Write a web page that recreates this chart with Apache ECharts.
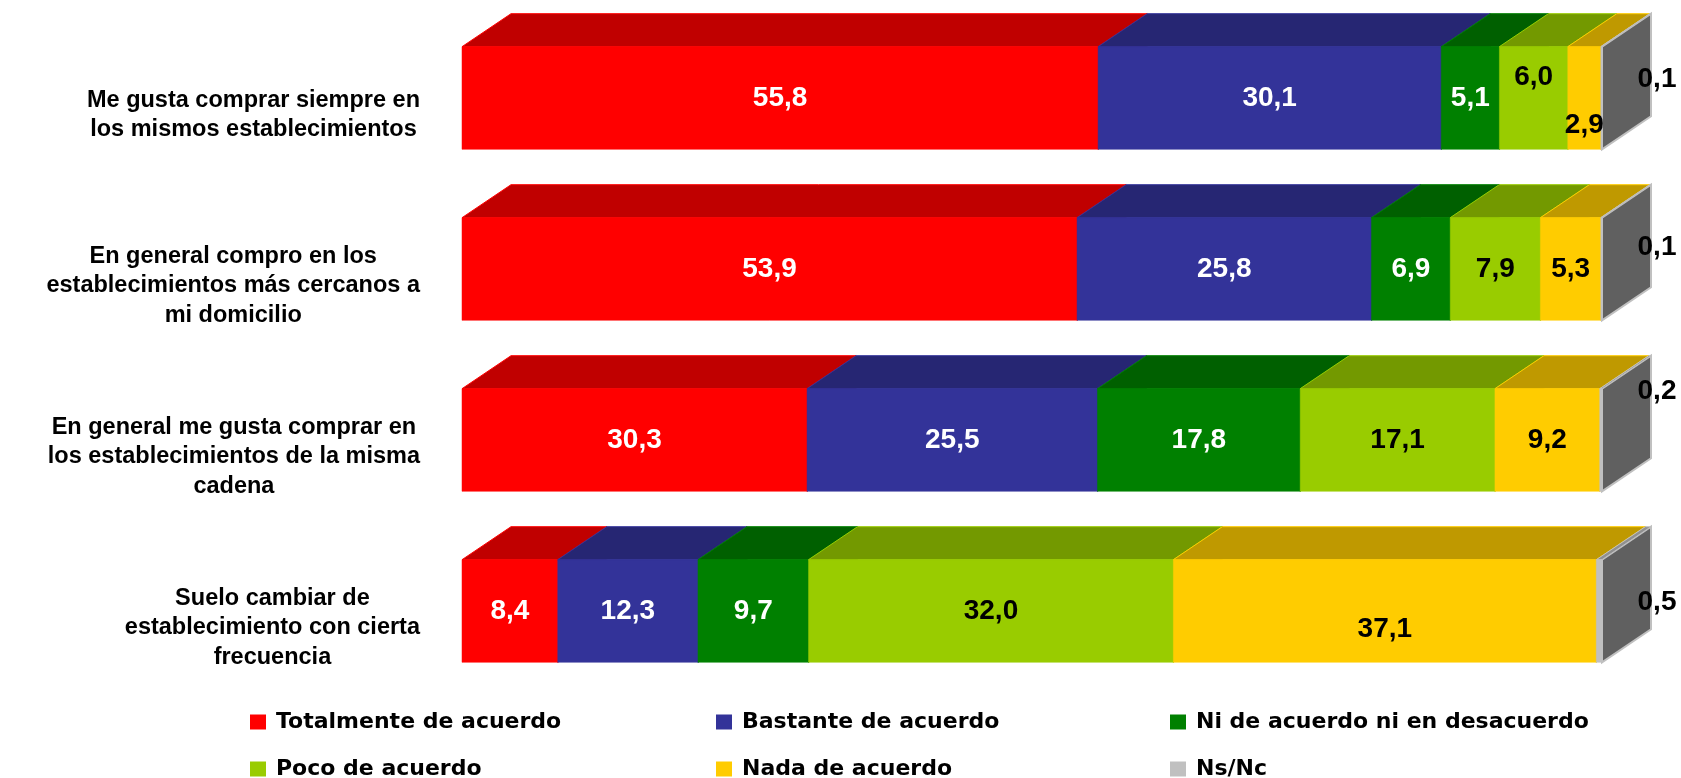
<!DOCTYPE html>
<html>
<head>
<meta charset="utf-8">
<script src="https://cdn.jsdelivr.net/npm/echarts@6/dist/echarts.min.js"></script>
<style>
html,body{margin:0;padding:0;background:#fff;}
#chart{width:1681px;height:778px;}
</style>
</head>
<body>
<div id="chart"></div>
<script>
// ---- data ----
const categories = [
  'Me gusta comprar siempre en\nlos mismos establecimientos',
  'En general compro en los\nestablecimientos más cercanos a\nmi domicilio',
  'En general me gusta comprar en\nlos establecimientos de la misma\ncadena',
  'Suelo cambiar de\nestablecimiento con cierta\nfrecuencia'
];
const seriesNames = ['Totalmente de acuerdo', 'Bastante de acuerdo', 'Ni de acuerdo ni en desacuerdo',
                     'Poco de acuerdo', 'Nada de acuerdo', 'Ns/Nc'];
const totalmente = [55.8, 53.9, 30.3, 8.4];
const bastante   = [30.1, 25.8, 25.5, 12.3];
const ni         = [5.1, 6.9, 17.8, 9.7];
const poco       = [6.0, 7.9, 17.1, 32.0];
const nada       = [2.9, 5.3, 9.2, 37.1];
const nsnc       = [0.1, 0.1, 0.2, 0.5];
const allValues = [totalmente, bastante, ni, poco, nada, nsnc];

// ---- styles / layout ----
const frontColors = ['#FF0000', '#333399', '#008000', '#99CC00', '#FFCC00', '#C0C0C0'];
const topColors   = ['#C00000', '#262673', '#006000', '#739900', '#BF9900', '#909090'];
const sideColors  = ['#800000', '#1A1A4D', '#004000', '#4D6600', '#806600', '#606060'];
const labelColors = ['#FFFFFF', '#FFFFFF', '#FFFFFF', '#000000', '#000000', '#000000'];
const DX = 49, DY = 33;
// manual label nudges (pixels) as in the original: key "row-series"
const labelNudge = {'0-3': -21, '0-4': 27, '3-4': 18};
const nsLabelNudge = [-19, -22, -49, -9];
// legend grid: 3 columns x 2 rows
const legendLefts = [250, 716, 1170];
const legendTops = [711, 758];

// 100% stacked positions
const totals = categories.map((c, i) => allValues.reduce((s, arr) => s + arr[i], 0));
const seriesData = allValues.map((arr, s) => arr.map((v, i) => {
  let start = 0;
  for (let k = 0; k < s; k++) start += allValues[k][i];
  return [i, start / totals[i] * 100, (start + v) / totals[i] * 100, v];
}));

function fmt(v) { return v.toFixed(1).replace('.', ','); }

function makeRender(s) {
  return function (params, api) {
    const cat = api.value(0), x0v = api.value(1), x1v = api.value(2), raw = api.value(3);
    const p0 = api.coord([x0v, cat]);
    const p1 = api.coord([x1v, cat]);
    const band = api.size([0, 1])[1];
    const h = band * 0.6;
    const x0 = p0[0], x1 = p1[0];
    const yTop = p0[1] - h / 2, yBot = p0[1] + h / 2;
    const children = [
      {type: 'polygon', shape: {points: [[x1, yTop], [x1 + DX, yTop - DY], [x1 + DX, yBot - DY], [x1, yBot]]},
       style: {fill: sideColors[s], stroke: frontColors[s], lineWidth: s === 5 ? 2 : 1}},
      {type: 'polygon', shape: {points: [[x0, yTop], [x1, yTop], [x1 + DX, yTop - DY], [x0 + DX, yTop - DY]]},
       style: {fill: topColors[s], stroke: frontColors[s], lineWidth: 1}},
      {type: 'rect', shape: {x: x0, y: yTop, width: Math.max(x1 - x0, 0.5), height: h},
       style: {fill: frontColors[s], stroke: frontColors[s], lineWidth: 0.5}}
    ];
    let lx, ly;
    if (s === 5) {
      lx = x1 + DX + 6;
      ly = p0[1] + nsLabelNudge[cat];
    } else {
      lx = (x0 + x1) / 2;
      ly = p0[1] + (labelNudge[cat + '-' + s] || 0);
    }
    children.push({type: 'text', z2: 100,
      style: {text: fmt(raw), x: lx, y: ly, align: 'center', verticalAlign: 'middle',
              fill: labelColors[s], font: 'bold 28px "Liberation Sans", Arial, sans-serif'}});
    return {type: 'group', children: children};
  };
}

const chart = echarts.init(document.getElementById('chart'), null, {renderer: 'canvas'});
const legendText = {color: '#000', fontSize: 22, fontWeight: 'bold', fontFamily: '"DejaVu Sans"', lineHeight: 15, padding: [0, 0, 0, 5]};
const legends = seriesNames.map((name, s) => ({
  data: [name], left: legendLefts[s % 3], top: legendTops[Math.floor(s / 3)],
  orient: 'horizontal', padding: 0, itemWidth: 16, itemHeight: 15, icon: 'rect',
  textStyle: legendText, selectedMode: false
}));
chart.setOption({
  backgroundColor: '#ffffff',
  animation: false,
  color: frontColors,
  legend: legends,
  grid: {left: 462, right: 79, top: 12.5, bottom: 81.5, containLabel: false, outerBoundsMode: 'none'},
  xAxis: {type: 'value', min: 0, max: 100, show: false},
  yAxis: {
    type: 'category', data: categories, inverse: true,
    axisLine: {show: false}, axisTick: {show: false}, splitLine: {show: false},
    axisLabel: {
      margin: 42, align: 'right', padding: [34, 0, 0, 0],
      formatter: function (v) { return v.split('\n').map(l => '{t|' + l + '}').join('\n'); },
      rich: {t: {align: 'center', fontSize: 23.5, fontWeight: 'bold', fontFamily: '"Liberation Sans", Arial', lineHeight: 29.5, color: '#000'}}
    }
  },
  series: seriesNames.map((name, s) => ({
    type: 'custom', name: name, renderItem: makeRender(s),
    itemStyle: {color: frontColors[s]},
    encode: {x: [1, 2], y: 0},
    data: seriesData[s]
  }))
});
</script>
</body>
</html>
